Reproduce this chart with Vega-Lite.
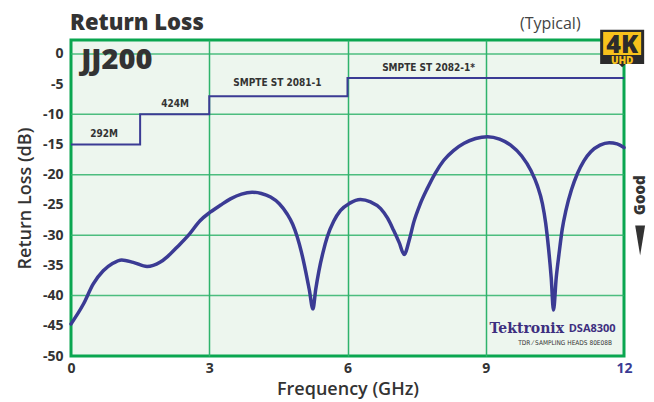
{
  "$schema": "https://vega.github.io/schema/vega-lite/v6.json",
  "width": 553,
  "height": 316,
  "autosize": "none",
  "padding": {"left": 71, "top": 40, "right": 30, "bottom": 46},
  "background": "#ffffff",
  "config": {
    "view": {"stroke": "#0aa650", "strokeWidth": 3, "fill": "#edf6ee"},
    "axis": {
      "domain": false,
      "ticks": false,
      "labelFont": "Open Sans",
      "labelFontWeight": "bold",
      "labelFontSize": 14,
      "labelColor": "#333333",
      "labelOverlap": false,
      "labelFlush": false,
      "labelBound": false,
      "titleFont": "Open Sans",
      "titleFontWeight": 600,
      "titleColor": "#333333",
      "gridColor": "#2fb36b",
      "gridWidth": 1.5
    }
  },
  "datasets": {
    "curve": [
      {"f": 0, "db": -44.7}, {"f": 0.27, "db": -41.4}, {"f": 0.48, "db": -38.1}, {"f": 0.7, "db": -35.9},
      {"f": 0.9, "db": -34.7}, {"f": 1.1, "db": -34.1}, {"f": 1.35, "db": -34.5}, {"f": 1.65, "db": -35.2},
      {"f": 1.93, "db": -34.5}, {"f": 2.1, "db": -33.5}, {"f": 2.3, "db": -32.0}, {"f": 2.55, "db": -30.0},
      {"f": 2.8, "db": -27.6}, {"f": 3.02, "db": -26.2}, {"f": 3.25, "db": -25.0}, {"f": 3.46, "db": -24.0},
      {"f": 3.7, "db": -23.2}, {"f": 3.93, "db": -22.9}, {"f": 4.13, "db": -23.1}, {"f": 4.33, "db": -23.7},
      {"f": 4.52, "db": -24.8}, {"f": 4.69, "db": -26.5}, {"f": 4.81, "db": -28.2}, {"f": 4.91, "db": -30.3},
      {"f": 5.0, "db": -32.8}, {"f": 5.09, "db": -35.9}, {"f": 5.17, "db": -39.0}, {"f": 5.25, "db": -42.2},
      {"f": 5.31, "db": -39.0}, {"f": 5.38, "db": -35.9}, {"f": 5.47, "db": -32.8}, {"f": 5.56, "db": -30.3},
      {"f": 5.7, "db": -27.7}, {"f": 5.85, "db": -25.9}, {"f": 6.05, "db": -24.7}, {"f": 6.28, "db": -24.1},
      {"f": 6.5, "db": -24.5}, {"f": 6.72, "db": -25.6}, {"f": 6.87, "db": -27.2}, {"f": 7.0, "db": -29.2},
      {"f": 7.12, "db": -31.2}, {"f": 7.23, "db": -33.2}, {"f": 7.34, "db": -30.8}, {"f": 7.44, "db": -27.8},
      {"f": 7.58, "db": -24.8}, {"f": 7.73, "db": -22.3}, {"f": 7.9, "db": -19.8}, {"f": 8.09, "db": -17.6},
      {"f": 8.3, "db": -16.0}, {"f": 8.53, "db": -14.8}, {"f": 8.78, "db": -14.0}, {"f": 9.04, "db": -13.7},
      {"f": 9.3, "db": -14.1}, {"f": 9.54, "db": -15.1}, {"f": 9.78, "db": -16.9}, {"f": 9.98, "db": -19.3},
      {"f": 10.12, "db": -21.8}, {"f": 10.23, "db": -24.8}, {"f": 10.3, "db": -28.0}, {"f": 10.36, "db": -32.0},
      {"f": 10.42, "db": -37.0}, {"f": 10.47, "db": -42.4}, {"f": 10.53, "db": -37.0}, {"f": 10.59, "db": -33.1},
      {"f": 10.66, "db": -29.0}, {"f": 10.74, "db": -25.9}, {"f": 10.86, "db": -22.5}, {"f": 10.99, "db": -19.8},
      {"f": 11.13, "db": -17.7}, {"f": 11.28, "db": -16.2}, {"f": 11.48, "db": -15.1}, {"f": 11.68, "db": -14.7},
      {"f": 11.85, "db": -14.9}, {"f": 12.0, "db": -15.5}
    ],
    "mask": [
      {"f": 0, "db": -15}, {"f": 1.5, "db": -10}, {"f": 3, "db": -7}, {"f": 6, "db": -4}, {"f": 12, "db": -4}
    ],
    "masklabels": [
      {"f": 0.72, "db": -13.3, "label": "292M"},
      {"f": 2.26, "db": -8.3, "label": "424M"},
      {"f": 4.48, "db": -4.8, "label": "SMPTE ST 2081-1"},
      {"f": 7.76, "db": -2.4, "label": "SMPTE ST 2082-1*"}
    ],
    "hgrid": [{"db": 0}, {"db": -10}, {"db": -20}, {"db": -30}, {"db": -40}],
    "one": [{}]
  },
  "layer": [
    {
      "data": {"name": "hgrid"},
      "mark": {"type": "rule", "color": "#2fb36b", "strokeWidth": 1.5, "opacity": 0.85},
      "encoding": {
        "y": {
          "field": "db", "type": "quantitative",
          "scale": {"domain": [-50, 2.3], "nice": false, "zero": false},
          "axis": {
            "values": [-50, -45, -40, -35, -30, -25, -20, -15, -10, -5, 0],
            "tickCount": 20,
            "labelOverlap": false,
            "labelExpr": "'' + datum.value",
            "grid": false,
            "title": "Return Loss (dB)",
            "titleFontSize": 18,
            "labelPadding": 8,
            "titlePadding": 8
          }
        }
      }
    },
    {
      "data": {"name": "curve"},
      "mark": {"type": "line", "color": "#3b3b94", "strokeWidth": 3.5, "interpolate": "monotone", "strokeJoin": "round", "strokeCap": "round"},
      "encoding": {
        "x": {
          "field": "f", "type": "quantitative",
          "scale": {"domain": [0, 12], "nice": false, "zero": false},
          "axis": {
            "values": [0, 3, 6, 9, 12],
            "tickCount": 10,
            "title": "Frequency (GHz)",
            "titleFontSize": 18,
            "labelPadding": 5,
            "titlePadding": 5,
            "labelColor": {"condition": {"test": "datum.value === 12", "value": "#3b3b94"}, "value": "#333333"},
            "gridOpacity": {"condition": {"test": "datum.value === 0 || datum.value === 12", "value": 0}, "value": 1}
          }
        },
        "y": {"field": "db", "type": "quantitative"}
      }
    },
    {
      "data": {"name": "mask"},
      "mark": {"type": "line", "color": "#3b3b94", "strokeWidth": 2, "interpolate": "step-after"},
      "encoding": {
        "x": {"field": "f", "type": "quantitative"},
        "y": {"field": "db", "type": "quantitative"}
      }
    },
    {
      "data": {"name": "masklabels"},
      "mark": {"type": "text", "font": "DejaVu Sans Condensed, Liberation Sans, sans-serif", "fontStretch": "condensed", "fontWeight": "bold", "fontSize": 10, "color": "#333333", "baseline": "middle", "align": "center"},
      "encoding": {
        "x": {"field": "f", "type": "quantitative"},
        "y": {"field": "db", "type": "quantitative"},
        "text": {"field": "label"}
      }
    },
    {
      "data": {"name": "one"},
      "mark": {"type": "text", "font": "Open Sans", "fontWeight": 800, "fontSize": 22, "color": "#333333", "align": "left", "baseline": "alphabetic"},
      "encoding": {"x": {"datum": -0.02}, "y": {"datum": 3.95}, "text": {"value": "Return Loss"}}
    },
    {
      "data": {"name": "one"},
      "mark": {"type": "text", "font": "Open Sans", "fontWeight": 800, "fontSize": 29, "color": "#333333", "align": "left", "baseline": "middle"},
      "encoding": {"x": {"datum": 0.22}, "y": {"datum": -1.0}, "text": {"value": "JJ200"}}
    },
    {
      "data": {"name": "one"},
      "mark": {"type": "text", "font": "Open Sans", "fontSize": 16, "color": "#444444", "align": "center", "baseline": "middle"},
      "encoding": {"x": {"datum": 10.4}, "y": {"datum": 4.95}, "text": {"value": "(Typical)"}}
    },
    {
      "data": {"name": "one"},
      "mark": {"type": "text", "font": "Open Sans", "fontWeight": 800, "fontSize": 15, "color": "#333333", "angle": 270, "align": "center", "baseline": "middle"},
      "encoding": {"x": {"datum": 12.35}, "y": {"datum": -23.4}, "text": {"value": "Good"}}
    },
    {
      "data": {"name": "one"},
      "mark": {"type": "point", "shape": "M-0.33,-1L0.33,-1L0,1Z", "filled": true, "color": "#333333", "opacity": 1, "size": 900},
      "encoding": {"x": {"datum": 12.35}, "y": {"datum": -30.9}}
    },
    {
      "data": {"name": "one"},
      "mark": {"type": "point", "shape": "M-1,-0.85L1,-0.85L1,0.7L0.15,0.7L0,0.85L-0.15,0.7L-1,0.7Z", "filled": true, "color": "#2b2b2b", "opacity": 1, "size": 1936},
      "encoding": {"x": {"datum": 11.96}, "y": {"datum": 0.89}}
    },
    {
      "data": {"name": "one"},
      "mark": {"type": "point", "shape": "M-1,-0.6L1,-0.6L1,0.6L-1,0.6Z", "filled": true, "color": "#f7c21c", "opacity": 1, "size": 1444},
      "encoding": {"x": {"datum": 11.96}, "y": {"datum": 1.72}}
    },
    {
      "data": {"name": "one"},
      "mark": {"type": "text", "font": "Open Sans", "fontWeight": 800, "fontSize": 25, "color": "#2b2b2b", "align": "center", "baseline": "alphabetic"},
      "encoding": {"x": {"datum": 11.96}, "y": {"datum": 0.2}, "text": {"value": "4K"}}
    },
    {
      "data": {"name": "one"},
      "mark": {"type": "text", "font": "Open Sans", "fontWeight": 800, "fontSize": 10, "color": "#f7c21c", "align": "center", "baseline": "middle"},
      "encoding": {"x": {"datum": 11.96}, "y": {"datum": -1.25}, "text": {"value": "UHD"}}
    },
    {
      "data": {"name": "one"},
      "mark": {"type": "text", "font": "DejaVu Serif", "fontWeight": "bold", "fontSize": 14, "color": "#3d2f7f", "align": "center", "baseline": "middle"},
      "encoding": {"x": {"datum": 9.89}, "y": {"datum": -45.6}, "text": {"value": "Tektronix"}}
    },
    {
      "data": {"name": "one"},
      "mark": {"type": "text", "font": "Open Sans", "fontWeight": "bold", "fontSize": 11, "color": "#3d2f7f", "align": "left", "baseline": "middle"},
      "encoding": {"x": {"datum": 10.8}, "y": {"datum": -45.6}, "text": {"value": "DSA8300"}}
    },
    {
      "data": {"name": "one"},
      "mark": {"type": "text", "font": "DejaVu Sans Condensed, Liberation Sans, sans-serif", "fontSize": 6.5, "color": "#333333", "align": "right", "baseline": "middle"},
      "encoding": {"x": {"datum": 11.74}, "y": {"datum": -47.9}, "text": {"value": "TDR ⁄ SAMPLING HEADS 80E08B"}}
    }
  ]
}
